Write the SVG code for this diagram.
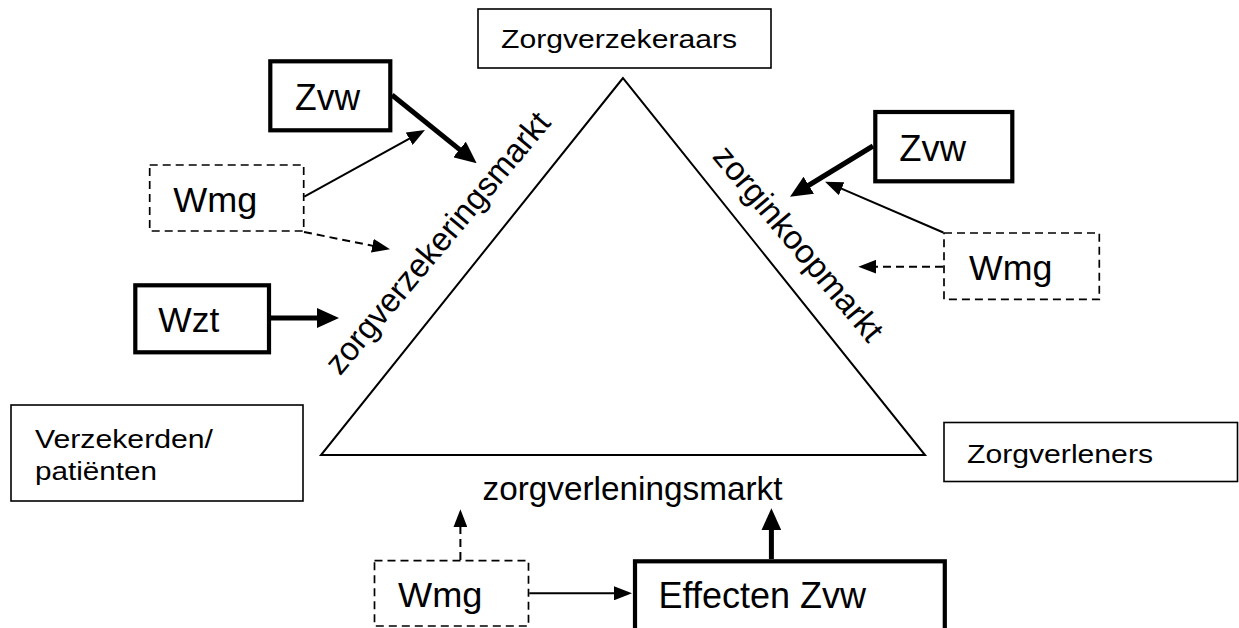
<svg xmlns="http://www.w3.org/2000/svg" width="1239" height="628" viewBox="0 0 1239 628">
<style>
text { font-family: "Liberation Sans", Arial, sans-serif; fill: #000; }
.box { fill: #fff; stroke: #000; stroke-width: 1.6; }
.thick { fill: #fff; stroke: #000; stroke-width: 4.2; }
.dash { fill: #fff; stroke: #000; stroke-width: 1.7; stroke-dasharray: 8 5; }
.a-thick { stroke: #000; stroke-width: 5; fill: none; marker-end: url(#headThick); }
.a-thin { stroke: #000; stroke-width: 2; fill: none; marker-end: url(#headThin); }
.a-dash { stroke: #000; stroke-width: 2; fill: none; stroke-dasharray: 8 5; marker-end: url(#headThin); }
.t26 { font-size: 26.5px; }
.t35 { font-size: 35px; }
.t36 { font-size: 36px; }
.t33 { font-size: 33px; }
</style>
<defs>
<marker id="headThick" markerUnits="userSpaceOnUse" viewBox="0 0 22 20" markerWidth="22" markerHeight="20" refX="11" refY="10" orient="auto">
<path d="M0,0 L22,10 L0,20 Z" fill="#000"/>
</marker>
<marker id="headThin" markerUnits="userSpaceOnUse" viewBox="0 0 18 14" markerWidth="18" markerHeight="14" refX="9" refY="7" orient="auto">
<path d="M0,0 L18,7 L0,14 Z" fill="#000"/>
</marker>
</defs>
<rect width="1239" height="628" fill="#fff"/>

<g id="triangle">
<polygon points="623,78 321,455 925,455" fill="none" stroke="#000" stroke-width="2"/>
</g>

<g id="market-labels">
<text class="t33" x="446" y="250" text-anchor="middle" textLength="330" lengthAdjust="spacingAndGlyphs" transform="rotate(-50 446 250)">zorgverzekeringsmarkt</text>
<text class="t33" x="790" y="250.5" text-anchor="middle" textLength="244" lengthAdjust="spacingAndGlyphs" transform="rotate(50 790 250.5)">zorginkoopmarkt</text>
<text class="t33" x="482.5" y="500" textLength="300" lengthAdjust="spacingAndGlyphs">zorgverleningsmarkt</text>
</g>

<g id="connectors">
<line class="a-thick" x1="392" y1="95" x2="468.1" y2="156.4"/>
<line class="a-thin" x1="304.3" y1="196.7" x2="417.1" y2="134.4"/>
<line class="a-dash" x1="304" y1="232" x2="381.2" y2="247.5"/>
<line class="a-thick" x1="271" y1="318" x2="328" y2="318"/>
<line class="a-thick" x1="873" y1="146" x2="799.4" y2="191"/>
<line class="a-thin" x1="943.3" y1="232.5" x2="833.3" y2="185.2"/>
<line class="a-dash" x1="943" y1="266.7" x2="867.3" y2="266.7"/>
<line class="a-dash" x1="460.4" y1="560" x2="460.4" y2="518.3"/>
<line class="a-thin" x1="529.3" y1="593.3" x2="623" y2="593.3"/>
<line class="a-thick" x1="771.4" y1="559" x2="771.4" y2="519.3"/>
</g>

<g id="zorgverzekeraars">
<rect class="box" x="478" y="9" width="293" height="59"/>
<text class="t26" x="501" y="48" textLength="236" lengthAdjust="spacingAndGlyphs">Zorgverzekeraars</text>
</g>

<g id="verzekerden">
<rect class="box" x="11" y="405" width="292" height="96"/>
<text class="t26" x="35" y="448" textLength="178" lengthAdjust="spacingAndGlyphs">Verzekerden/</text>
<text class="t26" x="35" y="480" textLength="122" lengthAdjust="spacingAndGlyphs">patiënten</text>
</g>

<g id="zorgverleners">
<rect class="box" x="944" y="422.5" width="293.5" height="59"/>
<text class="t26" x="967" y="462.7" textLength="186" lengthAdjust="spacingAndGlyphs">Zorgverleners</text>
</g>

<g id="zvw-left">
<rect class="thick" x="270.3" y="61.3" width="120" height="69"/>
<text class="t36" x="295" y="110" textLength="65" lengthAdjust="spacingAndGlyphs">Zvw</text>
</g>

<g id="wmg-left">
<rect class="dash" x="149.7" y="165" width="154" height="66"/>
<text class="t35" x="173.3" y="211.7" textLength="84" lengthAdjust="spacingAndGlyphs">Wmg</text>
</g>

<g id="wzt">
<rect class="thick" x="135.3" y="285.3" width="133.7" height="67"/>
<text class="t35" x="158.3" y="331.7" textLength="61" lengthAdjust="spacingAndGlyphs">Wzt</text>
</g>

<g id="zvw-right">
<rect class="thick" x="875.3" y="112" width="137" height="69.3"/>
<text class="t36" x="899.3" y="161" textLength="66.7" lengthAdjust="spacingAndGlyphs">Zvw</text>
</g>

<g id="wmg-right">
<rect class="dash" x="944" y="233" width="155.3" height="66.3"/>
<text class="t35" x="969" y="280" textLength="83.3" lengthAdjust="spacingAndGlyphs">Wmg</text>
</g>

<g id="wmg-bottom">
<rect class="dash" x="374.5" y="560.7" width="154" height="65.3"/>
<text class="t35" x="398" y="606.7" textLength="84.4" lengthAdjust="spacingAndGlyphs">Wmg</text>
</g>

<g id="effecten-zvw">
<rect class="thick" x="635" y="561.3" width="309.8" height="100"/>
<text class="t36" x="658.6" y="608.3" textLength="207.4" lengthAdjust="spacingAndGlyphs">Effecten Zvw</text>
</g>
</svg>
